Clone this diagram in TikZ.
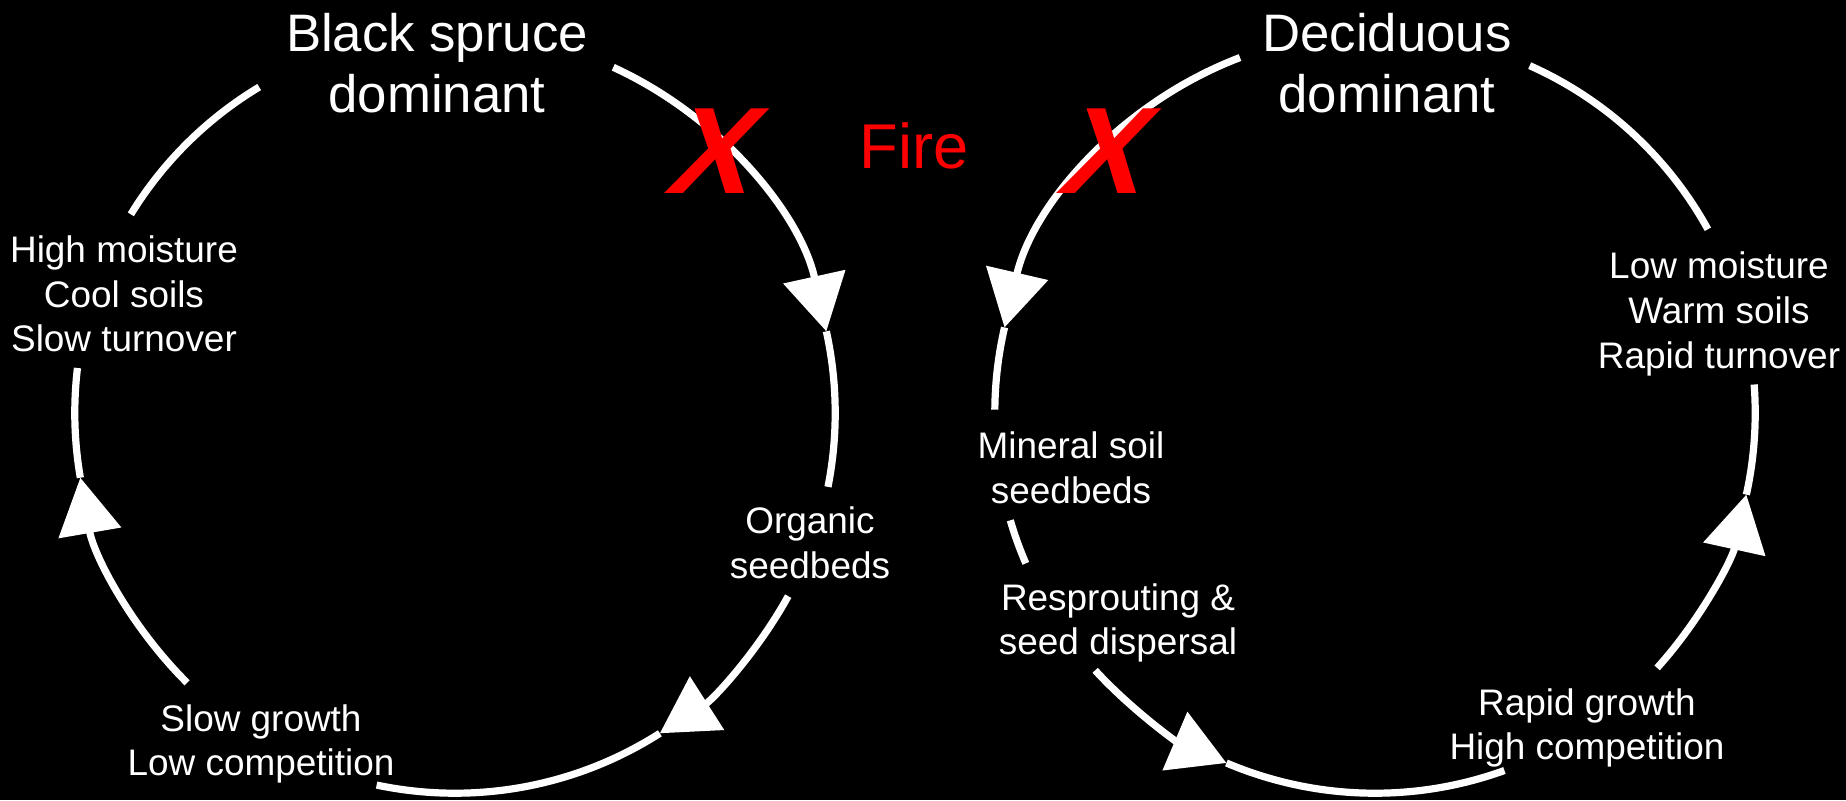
\documentclass[tikz,border=0pt]{standalone}
\usepackage{fontspec}
\setmainfont{Liberation Sans}
\usetikzlibrary{arrows.meta}
\begin{document}
\begin{tikzpicture}[x=0.01cm,y=0.01cm,
  cyc/.style={white,line width=0.072cm},
  cyca/.style={cyc,-{Triangle[length=0.56cm,width=0.62cm]}},
  big/.style={white,align=center,inner sep=0pt,font=\fontsize{15}{17.4}\selectfont},
  small/.style={white,align=center,inner sep=0pt,font=\fontsize{10.5}{12.7}\selectfont},
  redtxt/.style={red,inner sep=0pt,font=\fontsize{18}{20}\selectfont},
  xmark/.style={red,inner sep=0pt,font=\fontsize{35}{40}\selectfont\bfseries}]
\fill[black] (0,0) rectangle (1846,800);
\useasboundingbox (0,0) rectangle (1846,800);
\def\rr{3.8cm}
\coordinate (L) at (455,387);
\coordinate (R) at (1375,387);
% left circle points
\path (L) ++(65.4:\rr) coordinate (l1a);
\path (L) ++(12.4:\rr) coordinate (l1b);
\path (L) ++(-28.8:\rr) coordinate (l2a);
\path (L) ++(-57.4:\rr) coordinate (l2b);
\path (L) ++(-134.8:\rr) coordinate (l3a);
\path (L) ++(-170.2:\rr) coordinate (l3b);
\path (L) ++(148.5:\rr) coordinate (l4a);
% right circle points
\path (R) ++(110.8:\rr) coordinate (r1a);
\path (R) ++(167:\rr) coordinate (r1b);
\path (R) ++(196.4:\rr) coordinate (r2a);
\path (R) ++(222.6:\rr) coordinate (r3a);
\path (R) ++(247:\rr) coordinate (r3b);
\path (R) ++(317.9:\rr) coordinate (r4a);
\path (R) ++(347.6:\rr) coordinate (r4b);
\path (R) ++(28.9:\rr) coordinate (r5a);
% left arcs
\draw[cyca] (l1a) arc[start angle=65.4,end angle=12.4,radius=\rr];
\draw[cyc] (l1b) arc[start angle=12.4,end angle=-11.2,radius=\rr];
\draw[cyca] (l2a) arc[start angle=-28.8,end angle=-57.4,radius=\rr];
\draw[cyc] (l2b) arc[start angle=-57.4,end angle=-101.9,radius=\rr];
\draw[cyca] (l3a) arc[start angle=-134.8,end angle=-170.2,radius=\rr];
\draw[cyc] (l3b) arc[start angle=-170.2,end angle=-186.8,radius=\rr];
\draw[cyc] (l4a) arc[start angle=148.5,end angle=121,radius=\rr];
% right arcs
\draw[cyca] (r1a) arc[start angle=110.8,end angle=167,radius=\rr];
\draw[cyc] (r1b) arc[start angle=167,end angle=179.5,radius=\rr];
\draw[cyc] (r2a) arc[start angle=196.4,end angle=203.3,radius=\rr];
\draw[cyca] (r3a) arc[start angle=222.6,end angle=247,radius=\rr];
\draw[cyc] (r3b) arc[start angle=247,end angle=289.9,radius=\rr];
\draw[cyca] (r4a) arc[start angle=317.9,end angle=347.6,radius=\rr];
\draw[cyc] (r4b) arc[start angle=347.6,end angle=364.3,radius=\rr];
\draw[cyc] (r5a) arc[start angle=28.9,end angle=66,radius=\rr];
% texts
\node[big] (bs) at (437,737) {Black spruce\\dominant};
\node[big] (dd) at (1387,737) {Deciduous\\dominant};
\node[redtxt] (fire) at (914,654) {Fire};
\begin{scope}[shift={(719,649)},xslant=0.33,transform shape]
\node[xmark] (x1) at (0,0) {X};
\end{scope}
\begin{scope}[shift={(1110,649)},xslant=0.33,transform shape]
\node[xmark] (x2) at (0,0) {X};
\end{scope}
\node[small] (hm) at (124,506) {High moisture\\Cool soils\\Slow turnover};
\node[small] (os) at (810,257) {Organic\\seedbeds};
\node[small] (sg) at (261,56) {Slow growth\\Low competition};
\node[small] (lm) at (1719,486) {Low moisture\\Warm soils\\Rapid turnover};
\node[small] (ms) at (1071,332) {Mineral soil\\seedbeds};
\node[small] (rs) at (1118,177) {Resprouting \&\\seed dispersal};
\node[small] (rg) at (1587,72) {Rapid growth\\High competition};
\end{tikzpicture}
\end{document}
